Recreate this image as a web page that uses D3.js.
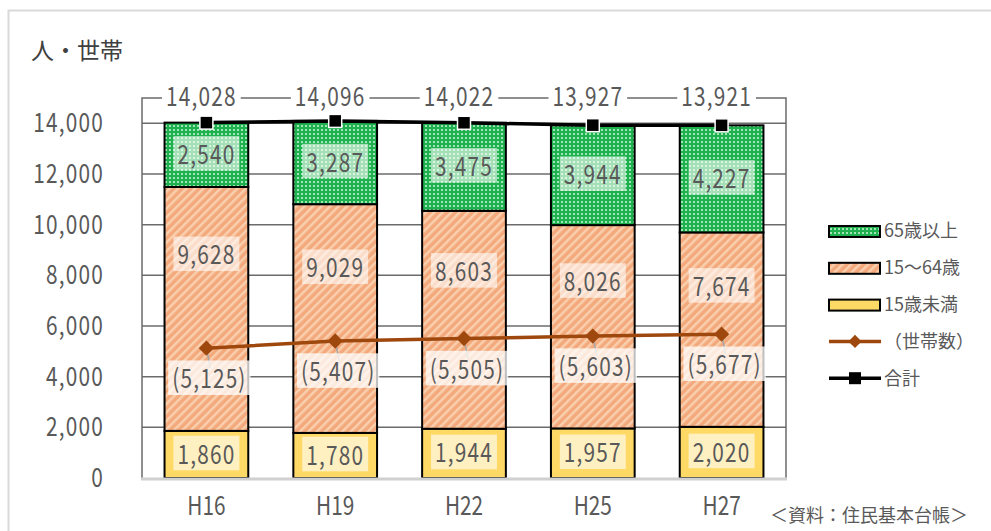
<!DOCTYPE html>
<html>
<head>
<meta charset="utf-8">
<script src="https://cdn.jsdelivr.net/npm/d3@7"></script>
<style>
    body { margin: 0; background: #fff; }
    svg text { font-family: "Noto Sans CJK JP", "Noto Sans", sans-serif; fill: #595959; }
</style>
</head>
<body>
<svg id="chart" width="991" height="531"></svg>
<script>
/*globals d3*/

var years = ["H16", "H19", "H22", "H25", "H27"];
var under15 = [1860, 1780, 1944, 1957, 2020];
var age15to64 = [9628, 9029, 8603, 8026, 7674];
var over65 = [2540, 3287, 3475, 3944, 4227];
var totals = [14028, 14096, 14022, 13927, 13921];
var households = [5125, 5407, 5505, 5603, 5677];
var yTicks = [0, 2000, 4000, 6000, 8000, 10000, 12000, 14000];

var legendItems = [
    {label: "65歳以上", kind: "bar", fill: "url(#dots)"},
    {label: "15～64歳", kind: "bar", fill: "url(#stripes)"},
    {label: "15歳未満", kind: "bar", fill: "#ffd966"},
    {label: "（世帯数）", kind: "diamond", color: "#9e480e"},
    {label: "合計", kind: "square", color: "#000"}
];

(function () {
    "use strict";

    var svg = d3.select("#chart"),
        defs = svg.append("defs"),
        fmt = d3.format(","),
        squeeze = "scale(0.8,1)",
        x,
        y,
        stack,
        layers,
        seriesKeys = ["under15", "age15to64", "over65"],
        fills = {under15: "#ffd966", age15to64: "url(#stripes)", over65: "url(#dots)"},
        rows,
        plot,
        top = 98,
        bottom = 478,
        left = 142,
        right = 786;

    // patterns
    var dots = defs.append("pattern")
        .attr("id", "dots")
        .attr("patternUnits", "userSpaceOnUse")
        .attr("width", 4)
        .attr("height", 4);
    dots.append("rect").attr("width", 4).attr("height", 4).attr("fill", "#1fb04f");
    dots.append("rect").attr("x", 1).attr("y", 1).attr("width", 2).attr("height", 2).attr("fill", "#9ee6b4");

    var stripes = defs.append("pattern")
        .attr("id", "stripes")
        .attr("patternUnits", "userSpaceOnUse")
        .attr("width", 6)
        .attr("height", 6)
        .attr("patternTransform", "rotate(45)");
    stripes.append("rect").attr("width", 6).attr("height", 6).attr("fill", "#f3a97c");
    stripes.append("rect").attr("width", 2.5).attr("height", 6).attr("fill", "#f9cfae");

    // frame
    svg.append("rect")
        .attr("x", 8.5).attr("y", 10.5)
        .attr("width", 1000).attr("height", 560)
        .attr("fill", "none")
        .attr("stroke", "#d9d9d9")
        .attr("stroke-width", 2);

    svg.append("text")
        .attr("x", 31).attr("y", 59)
        .style("font-size", "23px")
        .style("fill", "#404040")
        .text("人・世帯");

    x = d3.scaleBand().domain(years).range([left, right]).paddingInner(0.35).paddingOuter(0.175);
    y = d3.scaleLinear().domain([0, 15000]).range([bottom, top]);

    rows = years.map(function (yr, i) {
        return {year: yr, under15: under15[i], age15to64: age15to64[i], over65: over65[i]};
    });
    stack = d3.stack().keys(seriesKeys);
    layers = stack(rows);

    plot = svg.append("g");

    // gridlines
    plot.selectAll("line.grid").data(yTicks.filter(function (d) { return d > 0; }))
        .enter().append("line")
        .attr("class", "grid")
        .attr("x1", left).attr("x2", right)
        .attr("y1", function (d) { return y(d); })
        .attr("y2", function (d) { return y(d); })
        .attr("stroke", "#6b6b6b")
        .attr("stroke-width", 1.5);

    // plot border (top, left, right)
    plot.append("path")
        .attr("d", "M" + left + "," + bottom + "V" + top + "H" + right + "V" + bottom)
        .attr("fill", "none")
        .attr("stroke", "#6b6b6b")
        .attr("stroke-width", 1.5);

    // y axis labels
    svg.append("g")
        .attr("transform", "translate(104,0)")
        .call(d3.axisLeft(y).tickValues(yTicks).tickSize(0).tickPadding(0).tickFormat(fmt))
        .call(function (g) { g.select(".domain").remove(); })
        .selectAll("text")
        .attr("fill", null)
        .attr("transform", squeeze)
        .style("letter-spacing", "1.5px")
        .style("font-size", "26px")
        .style("font-family", "\"Noto Sans CJK JP\", sans-serif");

    // x axis labels
    svg.append("g")
        .attr("transform", "translate(0," + bottom + ")")
        .call(d3.axisBottom(x).tickSize(0).tickPadding(19))
        .call(function (g) { g.select(".domain").remove(); })
        .selectAll("text")
        .attr("fill", null)
        .attr("transform", squeeze)
        .style("font-size", "26px")
        .style("font-family", "\"Noto Sans CJK JP\", sans-serif");

    // bars
    layers.forEach(function (layer) {
        plot.selectAll("rect.s-" + layer.key).data(layer)
            .enter().append("rect")
            .attr("class", "s-" + layer.key)
            .attr("x", function (d) { return x(d.data.year); })
            .attr("width", x.bandwidth())
            .attr("y", function (d) { return y(d[1]); })
            .attr("height", function (d) { return y(d[0]) - y(d[1]); })
            .attr("fill", fills[layer.key])
            .attr("stroke", "#000")
            .attr("stroke-width", 2);
    });

    // x axis line
    plot.append("line")
        .attr("x1", left - 1).attr("x2", right + 1)
        .attr("y1", bottom + 1).attr("y2", bottom + 1)
        .attr("stroke", "#d0d0d0")
        .attr("stroke-width", 3);

    function boxedLabel(parent, cx, cy, txt, size, alpha) {
        var g, t, bb;
        g = parent.append("g")
            .attr("transform", "translate(" + cx + "," + cy + ") " + squeeze);
        t = g.append("text")
            .attr("text-anchor", "middle")
            .attr("dy", "0.35em")
            .style("font-size", size + "px")
            .style("letter-spacing", "1.5px")
            .text(txt);
        bb = t.node().getBBox();
        g.insert("rect", function () { return t.node(); })
            .attr("x", bb.x - 5).attr("y", bb.y + 2)
            .attr("width", bb.width + 10).attr("height", bb.height - 3)
            .attr("fill", "#fff")
            .attr("opacity", alpha);
    }

    // segment labels
    var labelG = svg.append("g");
    layers.forEach(function (layer) {
        layer.forEach(function (d) {
            var v = d[1] - d[0],
                pos = layer.key === "age15to64" ? d[0] + v * 0.72 : (d[0] + d[1]) / 2;
            boxedLabel(labelG, x(d.data.year) + x.bandwidth() / 2, y(pos), fmt(v), 26, 0.6);
        });
    });

    // household line
    var lineGen = d3.line()
        .x(function (d, i) { return x(years[i]) + x.bandwidth() / 2; })
        .y(function (d) { return y(d); });

    var hhG = svg.append("g");
    households.forEach(function (d, i) {
        var cx = x(years[i]) + x.bandwidth() / 2;
        hhG.append("line")
            .attr("x1", cx).attr("y1", y(d))
            .attr("x2", cx + 4).attr("y2", y(d) + 20)
            .attr("stroke", "#a6a6a6").attr("stroke-width", 1.5);
    });
    hhG.append("path")
        .datum(households)
        .attr("d", lineGen)
        .attr("fill", "none")
        .attr("stroke", "#9e480e")
        .attr("stroke-width", 3.5);
    hhG.selectAll("path.dm").data(households)
        .enter().append("path")
        .attr("class", "dm")
        .attr("d", d3.symbol().type(d3.symbolDiamond2).size(150))
        .attr("transform", function (d, i) {
            return "translate(" + (x(years[i]) + x.bandwidth() / 2) + "," + y(d) + ")";
        })
        .attr("fill", "#9e480e");
    households.forEach(function (d, i) {
        boxedLabel(hhG, x(years[i]) + x.bandwidth() / 2 + 3, y(d) + 31, "(" + fmt(d) + ")", 26, 0.75);
    });

    // total line
    var totG = svg.append("g");
    totG.append("path")
        .datum(totals)
        .attr("d", lineGen)
        .attr("fill", "none")
        .attr("stroke", "#000")
        .attr("stroke-width", 3.5);
    totG.selectAll("rect.mk").data(totals)
        .enter().append("rect")
        .attr("class", "mk")
        .attr("x", function (d, i) { return x(years[i]) + x.bandwidth() / 2 - 6.5; })
        .attr("y", function (d) { return y(d) - 6.5; })
        .attr("width", 13).attr("height", 13)
        .attr("fill", "#000")
        .attr("stroke", "#fff")
        .attr("stroke-width", 1.5);
    totals.forEach(function (d, i) {
        var cx = x(years[i]) + x.bandwidth() / 2 - 5;
        boxedLabel(totG, cx, y(15000) - 1, fmt(d), 26, 1);
    });

    // legend
    var leg = svg.append("g").attr("transform", "translate(829,231)");
    legendItems.forEach(function (d, i) {
        var g = leg.append("g").attr("transform", "translate(0," + (i * 36.8) + ")");
        if (d.kind === "bar") {
            g.append("rect")
                .attr("x", 0).attr("y", -5)
                .attr("width", 51).attr("height", 11)
                .attr("fill", d.fill)
                .attr("stroke", "#000")
                .attr("stroke-width", 2);
        } else {
            g.append("line")
                .attr("x1", 0).attr("x2", 52)
                .attr("stroke", d.color)
                .attr("stroke-width", 3.5);
            if (d.kind === "diamond") {
                g.append("path")
                    .attr("transform", "translate(26,0)")
                    .attr("d", d3.symbol().type(d3.symbolDiamond2).size(110))
                    .attr("fill", d.color);
            } else {
                g.append("rect")
                    .attr("x", 20).attr("y", -6)
                    .attr("width", 12).attr("height", 12)
                    .attr("fill", d.color);
            }
        }
        g.append("text")
            .attr("x", 55).attr("y", 0)
            .attr("dy", "0.35em")
            .style("font-size", "18px")
            .text(d.label);
    });

    svg.append("text")
        .attr("x", 770).attr("y", 522)
        .style("font-size", "18px")
        .text("＜資料：住民基本台帳＞");
}());
</script>
</body>
</html>
